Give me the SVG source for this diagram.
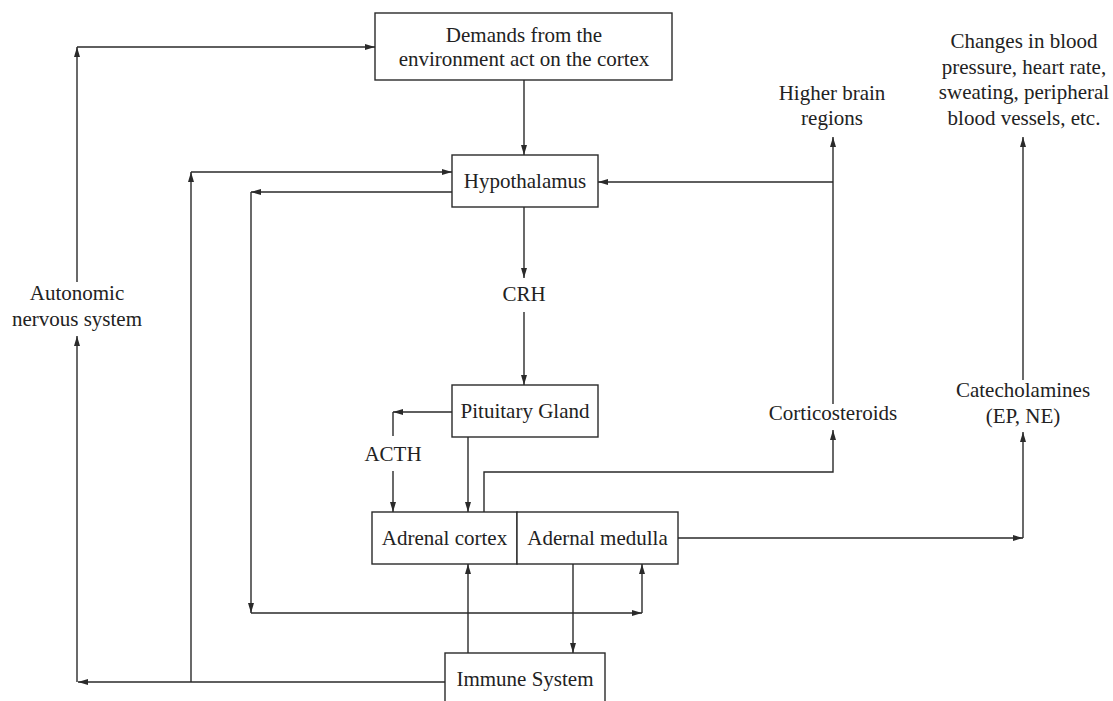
<svg xmlns="http://www.w3.org/2000/svg" width="1113" height="701" viewBox="0 0 1113 701">
<style>
.box{fill:#fff;stroke:#2a2a2a;stroke-width:1.4}
.ln{fill:none;stroke:#2a2a2a;stroke-width:1.4}
.a{marker-end:url(#ah)}
text{font-family:"Liberation Serif","Times New Roman",serif;font-size:21px;fill:#222;text-anchor:middle}
</style>
<defs>
<marker id="ah" viewBox="0 0 10 6" refX="10" refY="3" markerWidth="10" markerHeight="6" markerUnits="userSpaceOnUse" orient="auto">
<path d="M0,0 L10,3 L0,6 Z" fill="#2a2a2a"/>
</marker>
</defs>
<rect width="1113" height="701" fill="#fff"/>
<g id="connectors">
<line class="ln a" x1="77" y1="282" x2="77" y2="47"/>
<line class="ln a" x1="77" y1="47" x2="375" y2="47"/>
<line class="ln a" x1="524" y1="80" x2="524" y2="155"/>
<line class="ln a" x1="191" y1="682" x2="191" y2="172"/>
<line class="ln a" x1="191" y1="172" x2="452" y2="172"/>
<line class="ln a" x1="452" y1="192" x2="251" y2="192"/>
<line class="ln a" x1="251" y1="192" x2="251" y2="613"/>
<line class="ln a" x1="251" y1="613" x2="642" y2="613"/>
<line class="ln a" x1="642" y1="613" x2="642" y2="564"/>
<line class="ln a" x1="524" y1="207" x2="524" y2="278"/>
<line class="ln a" x1="524" y1="312" x2="524" y2="385"/>
<line class="ln a" x1="452" y1="412" x2="393" y2="412"/>
<line class="ln" x1="393" y1="412" x2="393" y2="436"/>
<line class="ln a" x1="393" y1="471" x2="393" y2="512"/>
<line class="ln a" x1="468" y1="437" x2="468" y2="512"/>
<polyline class="ln a" points="484,512 484,472 833,472 833,430"/>
<line class="ln a" x1="833" y1="404" x2="833" y2="137"/>
<line class="ln a" x1="833" y1="182" x2="598" y2="182"/>
<line class="ln a" x1="678" y1="538" x2="1023" y2="538"/>
<line class="ln a" x1="1023" y1="538" x2="1023" y2="432"/>
<line class="ln a" x1="1023" y1="380" x2="1023" y2="137"/>
<line class="ln a" x1="468" y1="653" x2="468" y2="564"/>
<line class="ln a" x1="573" y1="564" x2="573" y2="653"/>
<line class="ln a" x1="445" y1="682" x2="78" y2="682"/>
<line class="ln a" x1="77" y1="682" x2="77" y2="336"/>
</g>
<g id="demands">
<rect class="box" x="375" y="13" width="297" height="67"/>
<text x="524" y="42">Demands from the</text>
<text x="524" y="66">environment act on the cortex</text>
</g>
<g id="hypothalamus">
<rect class="box" x="452" y="155" width="146" height="52"/>
<text x="525" y="188">Hypothalamus</text>
</g>
<g id="crh"><text x="524" y="301">CRH</text></g>
<g id="pituitary">
<rect class="box" x="452" y="385" width="146" height="52"/>
<text x="525" y="418">Pituitary Gland</text>
</g>
<g id="acth"><text x="393" y="461">ACTH</text></g>
<g id="adrenal-cortex">
<rect class="box" x="372" y="512" width="145" height="52"/>
<text x="444.5" y="545">Adrenal cortex</text>
</g>
<g id="adrenal-medulla">
<rect class="box" x="517" y="512" width="161" height="52"/>
<text x="597.5" y="545">Adernal medulla</text>
</g>
<g id="immune">
<rect class="box" x="445" y="653" width="160" height="60"/>
<text x="525" y="686">Immune System</text>
</g>
<g id="autonomic">
<text x="77" y="300">Autonomic</text>
<text x="77" y="326">nervous system</text>
</g>
<g id="higher-brain">
<text x="832" y="100">Higher brain</text>
<text x="832" y="125">regions</text>
</g>
<g id="changes">
<text x="1024" y="48">Changes in blood</text>
<text x="1024" y="74">pressure, heart rate,</text>
<text x="1024" y="99">sweating, peripheral</text>
<text x="1024" y="125">blood vessels, etc.</text>
</g>
<g id="corticosteroids"><text x="833" y="420">Corticosteroids</text></g>
<g id="catecholamines">
<text x="1023" y="397">Catecholamines</text>
<text x="1023" y="423">(EP, NE)</text>
</g>
</svg>
